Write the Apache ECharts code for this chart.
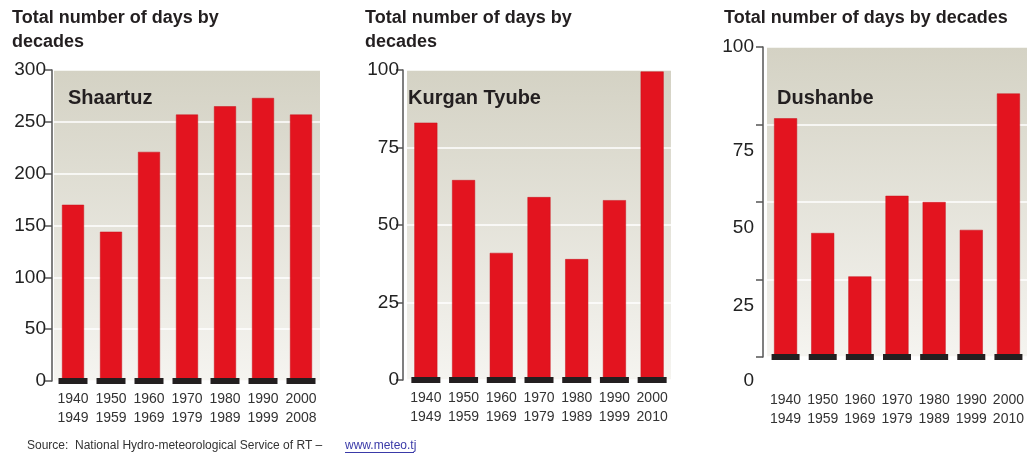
<!DOCTYPE html>
<html lang="en">
<head>
    <meta charset="UTF-8">
    <title>Total number of days by decades</title>
    <script src="https://cdn.jsdelivr.net/npm/echarts@6/dist/echarts.min.js"></script>
    <style>
        html, body { margin: 0; padding: 0; background: #fff; }
        #main { width: 1027px; height: 453px; }
    </style>
</head>
<body>
    <div id="main"></div>
</body>
</html>
<script type="text/javascript">
    // decades on the x axis
    var decadesA = ['1940\n1949', '1950\n1959', '1960\n1969', '1970\n1979', '1980\n1989', '1990\n1999', '2000\n2008'];
    var decadesB = ['1940\n1949', '1950\n1959', '1960\n1969', '1970\n1979', '1980\n1989', '1990\n1999', '2000\n2010'];
    // days per decade
    var shaartuz = [170, 144, 221, 257, 265, 273, 257];
    var kurganTyube = [83, 64.5, 41, 59, 39, 58, 99.5];
    var dushanbe = [77, 40, 26, 52, 50, 41, 85];
    // base markers under each bar
    var baseA = [0, 0, 0, 0, 0, 0, 0];
    // printed tick labels of the Dushanbe panel (they sit below their ticks)
    var dushanbeTicks = [0, 25, 50, 75, 100];

    var RED = '#e3141f';
    var DARK = '#231f20';
    var FONT = '"Liberation Sans", Arial, sans-serif';

    function bgFill() {
        return {
            type: 'linear', x: 0, y: 0, x2: 0, y2: 1,
            colorStops: [
                { offset: 0, color: '#d4d2c4' },
                { offset: 1, color: '#f5f4f0' }
            ]
        };
    }

    function makeGrid(left, right, top, bottom) {
        return {
            left: left, right: right, top: top, bottom: bottom,
            show: true, backgroundColor: bgFill(), borderWidth: 0
        };
    }

    function makeX(idx, cats, margin) {
        return {
            type: 'category', gridIndex: idx, data: cats,
            axisLine: { show: false }, axisTick: { show: false },
            axisLabel: { interval: 0, margin: margin, fontFamily: FONT, fontSize: 14, lineHeight: 19, color: '#333' }
        };
    }

    function makeY(idx, max, interval, margin, offset) {
        return {
            type: 'value', gridIndex: idx, min: 0, max: max, interval: interval, offset: offset,
            axisLine: { show: true, lineStyle: { color: '#555', width: 1.5 } },
            axisTick: { show: true, length: 7, lineStyle: { color: '#555', width: 1.5 } },
            axisLabel: { margin: margin, fontFamily: FONT, fontSize: 19, color: '#222' },
            splitLine: { show: true, lineStyle: { color: '#ffffff', width: 1.5 } }
        };
    }

    function barSeries(idx, data, width) {
        return {
            type: 'bar', xAxisIndex: idx, yAxisIndex: idx, data: data, barWidth: width,
            itemStyle: { color: RED, borderColor: '#c8101a', borderWidth: 0.5 },
            silent: true
        };
    }

    function baseSeries(idx, width) {
        return {
            type: 'scatter', xAxisIndex: idx, yAxisIndex: idx, data: baseA,
            symbol: 'rect', symbolSize: [width, 6], z: 5,
            itemStyle: { color: DARK, opacity: 1 }, silent: true
        };
    }

    var titleStyle = { fontFamily: FONT, fontSize: 18, fontWeight: 'bold', lineHeight: 24, color: DARK };
    var nameStyle = { fontFamily: FONT, fontSize: 20, fontWeight: 'bold', color: DARK };

    var dushY = makeY(2, 100, 25, 9, 4);
    dushY.axisLabel.formatter = function (v) {
        if (v === dushanbeTicks[4]) return '{a|' + v + '}';
        if (v === dushanbeTicks[0]) return '{c|' + v + '}';
        return '{b|' + v + '}';
    };
    dushY.axisLabel.rich = {
        a: { fontFamily: FONT, fontSize: 19, color: '#222' },
        b: { fontFamily: FONT, fontSize: 19, color: '#222', padding: [52, 0, 0, 0] },
        c: { fontFamily: FONT, fontSize: 19, color: '#222', padding: [48, 0, 0, 0] }
    };

    var myChart = echarts.init(document.getElementById('main'));
    var option = {
        animation: false,
        backgroundColor: '#ffffff',
        title: [
            { text: 'Total number of days by\ndecades', left: 12, top: 6, padding: 0, textStyle: titleStyle },
            { text: 'Total number of days by\ndecades', left: 365, top: 6, padding: 0, textStyle: titleStyle },
            { text: 'Total number of days by decades', left: 724, top: 6, padding: 0, textStyle: titleStyle },
            { text: 'Shaartuz', left: 68, top: 88, padding: 0, textStyle: nameStyle },
            { text: 'Kurgan Tyube', left: 408, top: 88, padding: 0, textStyle: nameStyle },
            { text: 'Dushanbe', left: 777, top: 88, padding: 0, textStyle: nameStyle },
            {
                text: 'Source:  National Hydro-meteorological Service of RT \u2013',
                left: 27, top: 440, padding: 0,
                textStyle: { fontFamily: FONT, fontSize: 12, fontWeight: 'normal', color: '#333' }
            }
        ],
        graphic: [{
            type: 'group', left: 345, top: 440,
            children: [
                { type: 'text', style: { text: 'www.meteo.tj', font: '12px "Liberation Sans", Arial, sans-serif', fill: '#3a3aa8' } },
                { type: 'rect', shape: { x: 0, y: 12, width: 69, height: 1 }, style: { fill: '#3a3aa8' } }
            ]
        }],
        grid: [
            makeGrid(54, 707, 70, 72),
            makeGrid(407, 356, 70, 73),
            makeGrid(767, -8, 47, 96)
        ],
        xAxis: [
            makeX(0, decadesA, 9),
            makeX(1, decadesB, 9),
            makeX(2, decadesB, 34)
        ],
        yAxis: [
            makeY(0, 300, 50, 6, 2),
            makeY(1, 100, 25, 4, 4),
            dushY
        ],
        series: [
            barSeries(0, shaartuz, 22),
            baseSeries(0, 29),
            barSeries(1, kurganTyube, 23),
            baseSeries(1, 29),
            barSeries(2, dushanbe, 23),
            baseSeries(2, 28)
        ]
    };
    myChart.setOption(option);
</script>
